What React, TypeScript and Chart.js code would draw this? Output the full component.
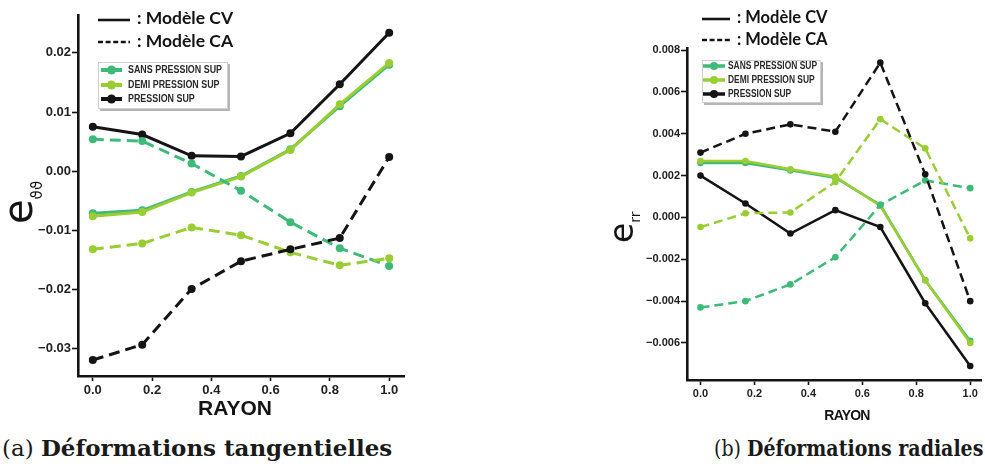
import React, { useEffect, useLayoutEffect, useRef } from "react";
import { Chart, registerables } from "chart.js";
Chart.register(...registerables);

// ---------- data ----------
const rayon = [0.0, 0.1667, 0.3333, 0.5, 0.6667, 0.8333, 1.0];
const xTickValues = [0, 0.2, 0.4, 0.6, 0.8, 1.0];

const seriesNames = ["SANS PRESSION SUP", "DEMI PRESSION SUP", "PRESSION SUP"];
const seriesColors = ["#3dba78", "#9acc34", "#141414"];
const modelLabels = [": Modèle CV", ": Modèle CA"];
const xAxisTitle = "RAYON";

// (a) tangential strains
const tanSansCV = [-0.0071, -0.0066, -0.0035, -0.0008, 0.0037, 0.0110, 0.0180];
const tanDemiCV = [-0.0076, -0.0069, -0.0036, -0.0009, 0.0036, 0.0113, 0.0183];
const tanPressCV = [0.0075, 0.0062, 0.0026, 0.0025, 0.0064, 0.0147, 0.0234];
const tanSansCA = [0.0054, 0.0051, 0.0013, -0.0033, -0.0086, -0.0130, -0.0160];
const tanDemiCA = [-0.0132, -0.0122, -0.0095, -0.0108, -0.0137, -0.0159, -0.0147];
const tanPressCA = [-0.0319, -0.0293, -0.0199, -0.0152, -0.0132, -0.0113, 0.0024];
const tanYTicks = [-0.03, -0.02, -0.01, 0, 0.01, 0.02];

// (b) radial strains
const radSansCV = [0.0026, 0.0026, 0.00225, 0.0019, 0.0006, -0.0030, -0.0059];
const radDemiCV = [0.0027, 0.0027, 0.0023, 0.00195, 0.00055, -0.0030, -0.0060];
const radPressCV = [0.0020, 0.00067, -0.00077, 0.00035, -0.00046, -0.0041, -0.0071];
const radSansCA = [-0.0043, -0.0040, -0.0032, -0.0019, 0.0006, 0.00177, 0.0014];
const radDemiCA = [-0.00046, 0.0002, 0.00024, 0.0017, 0.0047, 0.0033, -0.0010];
const radPressCA = [0.0031, 0.0040, 0.00445, 0.0041, 0.0074, 0.00206, -0.0040];
const radYTicks = [-0.006, -0.004, -0.002, 0, 0.002, 0.004, 0.006, 0.008];

const captionA = ["(a)", "Déformations tangentielles"];
const captionB = ["(b)", "Déformations radiales"];

// ---------- layout specs ----------
const LEFT = {
  W: 430, H: 425, pageX: 0,
  areaLeft: 78, areaTop: 15, areaRight: 404, areaBottom: 376,
  xMin: -0.05, xMax: 1.05, yMin: -0.0346, yMax: 0.0264,
  tickFont: 13, yDecimals: 2, lineWidth: 3, pointRadius: 4, dash: [11, 6],
  legendLine: [98, 130], legendLineY: [20, 42], legendBase: [23.5, 47], legendTextX: 137, legendFont: 17.5,
  box: [98, 62, 228, 109], boxEntryY: [70, 85, 99], boxMarker: [101, 122], boxTextX: 128, boxTextW: 94, boxFont: 10.5, boxLineW: 4, boxR: 4.5,
  eX: 32, eY: 224, eSize: 40, sub: "ϑϑ", subSize: 15, subDy: 10,
  xTitleX: 235, xTitleY: 409, xTitleSize: 21, xTitleSpacing: 0,
};
const RIGHT = {
  W: 385, H: 425, pageX: 600,
  areaLeft: 87, areaTop: 48, areaRight: 385, areaBottom: 380,
  xMin: -0.05, xMax: 1.04, yMin: -0.00777, yMax: 0.0081,
  tickFont: 11, yDecimals: 3, lineWidth: 2.5, pointRadius: 3.3, dash: [9, 5],
  legendLine: [102, 130], legendLineY: [19, 40], legendBase: [23.3, 45], legendTextX: 137, legendFont: 16.5,
  box: [102, 60, 221, 103], boxEntryY: [66, 80, 94], boxMarker: [103, 125], boxTextX: 128, boxTextW: 89, boxFont: 10, boxLineW: 3.5, boxR: 4,
  eX: 33, eY: 243, eSize: 33, sub: "rr", subSize: 14, subDy: 7,
  xTitleX: 247, xTitleY: 416, xTitleSize: 14, xTitleSpacing: -0.8,
};

function fmtSigned(v: number, d: number) {
  if (Math.abs(v) < 1e-12) return (0).toFixed(d);
  return (v < 0 ? "\u2212" : "") + Math.abs(v).toFixed(d);
}

function makeOverlay(L: any) {
  return {
    id: "overlay",
    afterDraw(chart: any) {
      const ctx: CanvasRenderingContext2D = chart.ctx;
      ctx.save();
      // top legend (line styles)
      ctx.strokeStyle = "#141414";
      ctx.lineWidth = 2.6;
      ctx.setLineDash([]);
      ctx.beginPath();
      ctx.moveTo(L.legendLine[0], L.legendLineY[0]);
      ctx.lineTo(L.legendLine[1], L.legendLineY[0]);
      ctx.stroke();
      ctx.setLineDash([5, 2.6]);
      ctx.beginPath();
      ctx.moveTo(L.legendLine[0], L.legendLineY[1]);
      ctx.lineTo(L.legendLine[1], L.legendLineY[1]);
      ctx.stroke();
      ctx.setLineDash([]);
      ctx.fillStyle = "#141414";
      ctx.font = `bold ${L.legendFont}px Lato`;
      ctx.textBaseline = "alphabetic";
      ctx.textAlign = "left";
      ctx.fillText(modelLabels[0], L.legendTextX, L.legendBase[0]);
      ctx.fillText(modelLabels[1], L.legendTextX, L.legendBase[1]);

      // boxed legend
      const [bx0, by0, bx1, by1] = L.box;
      ctx.fillStyle = "rgba(120,120,120,0.55)";
      ctx.fillRect(bx0 + 2, by0 + 2, bx1 - bx0, by1 - by0);
      ctx.fillStyle = "#ffffff";
      ctx.fillRect(bx0, by0, bx1 - bx0, by1 - by0);
      ctx.strokeStyle = "#d0d0d0";
      ctx.lineWidth = 1;
      ctx.strokeRect(bx0 + 0.5, by0 + 0.5, bx1 - bx0 - 1, by1 - by0 - 1);
      ctx.font = `bold ${L.boxFont}px "Liberation Sans"`;
      const refW = ctx.measureText(seriesNames[0]).width;
      const sx = L.boxTextW / refW;
      for (let i = 0; i < 3; i++) {
        const y = L.boxEntryY[i];
        ctx.strokeStyle = seriesColors[i];
        ctx.lineWidth = L.boxLineW;
        ctx.beginPath();
        ctx.moveTo(L.boxMarker[0], y);
        ctx.lineTo(L.boxMarker[1], y);
        ctx.stroke();
        ctx.fillStyle = seriesColors[i];
        ctx.beginPath();
        ctx.arc((L.boxMarker[0] + L.boxMarker[1]) / 2, y, L.boxR, 0, Math.PI * 2);
        ctx.fill();
        ctx.save();
        ctx.translate(L.boxTextX, y);
        ctx.scale(sx, 1);
        ctx.fillStyle = "#2a2a2a";
        ctx.textBaseline = "middle";
        ctx.fillText(seriesNames[i], 0, 0.5);
        ctx.restore();
      }

      // y-axis label
      ctx.save();
      ctx.translate(L.eX, L.eY);
      ctx.rotate(-Math.PI / 2);
      ctx.fillStyle = "#141414";
      ctx.textBaseline = "alphabetic";
      ctx.font = `${L.eSize}px "DejaVu Sans"`;
      ctx.fillText("e", 0, 0);
      const ew = ctx.measureText("e").width;
      ctx.font = `${L.subSize}px "DejaVu Sans"`;
      ctx.fillText(L.sub, ew, L.subDy);
      ctx.restore();

      // x-axis title
      ctx.fillStyle = "#141414";
      ctx.font = `bold ${L.xTitleSize}px "Liberation Sans"`;
      (ctx as any).letterSpacing = `${L.xTitleSpacing}px`;
      ctx.textAlign = "center";
      ctx.textBaseline = "middle";
      ctx.fillText(xAxisTitle, L.xTitleX, L.xTitleY);
      (ctx as any).letterSpacing = "0px";
      ctx.restore();
    },
  };
}

function ChartPanel({ L, cv, ca }: { L: any; cv: number[][]; ca: number[][] }) {
  const ref = useRef<HTMLCanvasElement | null>(null);
  useEffect(() => {
    if (!ref.current) return;
    const datasets: any[] = [];
    const orders = [3, 2, 1];
    for (let i = 0; i < 3; i++) {
      datasets.push({
        label: seriesNames[i] + " CV",
        data: rayon.map((x, k) => ({ x, y: cv[i][k] })),
        borderColor: seriesColors[i],
        backgroundColor: seriesColors[i],
        pointBackgroundColor: seriesColors[i],
        pointBorderWidth: 0,
        pointRadius: L.pointRadius,
        borderWidth: L.lineWidth,
        tension: 0,
        fill: false,
        order: orders[i] + 3,
      });
      datasets.push({
        label: seriesNames[i] + " CA",
        data: rayon.map((x, k) => ({ x, y: ca[i][k] })),
        borderColor: seriesColors[i],
        backgroundColor: seriesColors[i],
        pointBackgroundColor: seriesColors[i],
        pointBorderWidth: 0,
        pointRadius: L.pointRadius,
        borderWidth: L.lineWidth,
        borderDash: L.dash,
        tension: 0,
        fill: false,
        order: orders[i],
      });
    }
    const yTicks = L.yDecimals === 2 ? tanYTicks : radYTicks;
    const chart = new Chart(ref.current, {
      type: "line",
      data: { datasets },
      options: {
        animation: false,
        responsive: false,
        devicePixelRatio: 1,
        layout: { padding: { top: L.areaTop, right: L.W - L.areaRight, left: 0, bottom: 0 } },
        plugins: { legend: { display: false }, tooltip: { enabled: false } },
        scales: {
          x: {
            type: "linear",
            min: L.xMin,
            max: L.xMax,
            afterBuildTicks: (s: any) => {
              s.ticks = xTickValues.map((v) => ({ value: v }));
            },
            afterFit: (s: any) => {
              s.height = L.H - L.areaBottom;
            },
            grid: { display: true, drawOnChartArea: false, drawTicks: true, tickLength: 5, tickWidth: 1.6, tickColor: "#141414", color: "#141414" },
            border: { display: true, width: 2.6, color: "#141414" },
            ticks: {
              font: { family: "Liberation Sans", weight: "bold", size: L.tickFont },
              color: "#222",
              padding: 2,
              maxRotation: 0,
              autoSkip: false,
              callback: (v: any) => Number(v).toFixed(1),
            },
          },
          y: {
            type: "linear",
            min: L.yMin,
            max: L.yMax,
            afterBuildTicks: (s: any) => {
              s.ticks = yTicks.map((v: number) => ({ value: v }));
            },
            afterFit: (s: any) => {
              s.width = L.areaLeft;
            },
            grid: { display: true, drawOnChartArea: false, drawTicks: true, tickLength: 6, tickWidth: 1.6, tickColor: "#141414", color: "#141414" },
            border: { display: true, width: 2.6, color: "#141414" },
            ticks: {
              font: { family: "Liberation Sans", weight: "bold", size: L.tickFont },
              color: "#222",
              padding: 1,
              autoSkip: false,
              callback: (v: any) => fmtSigned(Number(v), L.yDecimals),
            },
          },
        },
      } as any,
      plugins: [makeOverlay(L)],
    });
    return () => chart.destroy();
  }, []);
  return (
    <canvas
      ref={ref}
      width={L.W}
      height={L.H}
      style={{ position: "absolute", left: L.pageX, top: 0, width: L.W, height: L.H }}
    />
  );
}

const captionStyle: React.CSSProperties = {
  position: "absolute",
  top: 433,
  fontFamily: '"DejaVu Serif", serif',
  fontSize: 22,
  lineHeight: "30px",
  whiteSpace: "nowrap",
  color: "#1a1a1a",
  transformOrigin: "0 50%",
};

function Caption({ parts, left, target }: { parts: string[]; left: number; target: number }) {
  const ref = useRef<HTMLDivElement | null>(null);
  useLayoutEffect(() => {
    const fit = () => {
      const el = ref.current;
      if (!el) return;
      el.style.transform = "none";
      const w = el.scrollWidth;
      if (w > 0) el.style.transform = `scaleX(${target / w})`;
    };
    fit();
    if ((document as any).fonts && (document as any).fonts.ready) {
      (document as any).fonts.ready.then(fit);
    }
  }, []);
  return (
    <div ref={ref} style={{ ...captionStyle, left }}>
      <span>{parts[0]} </span>
      <b>{parts[1]}</b>
    </div>
  );
}

export default function App() {
  return (
    <div style={{ position: "absolute", left: 0, top: 0, width: 985, height: 470, background: "#fff", overflow: "hidden" }}>
      <ChartPanel L={LEFT} cv={[tanSansCV, tanDemiCV, tanPressCV]} ca={[tanSansCA, tanDemiCA, tanPressCA]} />
      <ChartPanel L={RIGHT} cv={[radSansCV, radDemiCV, radPressCV]} ca={[radSansCA, radDemiCA, radPressCA]} />
      <Caption parts={captionA} left={2} target={390} />
      <Caption parts={captionB} left={714} target={269} />
    </div>
  );
}
